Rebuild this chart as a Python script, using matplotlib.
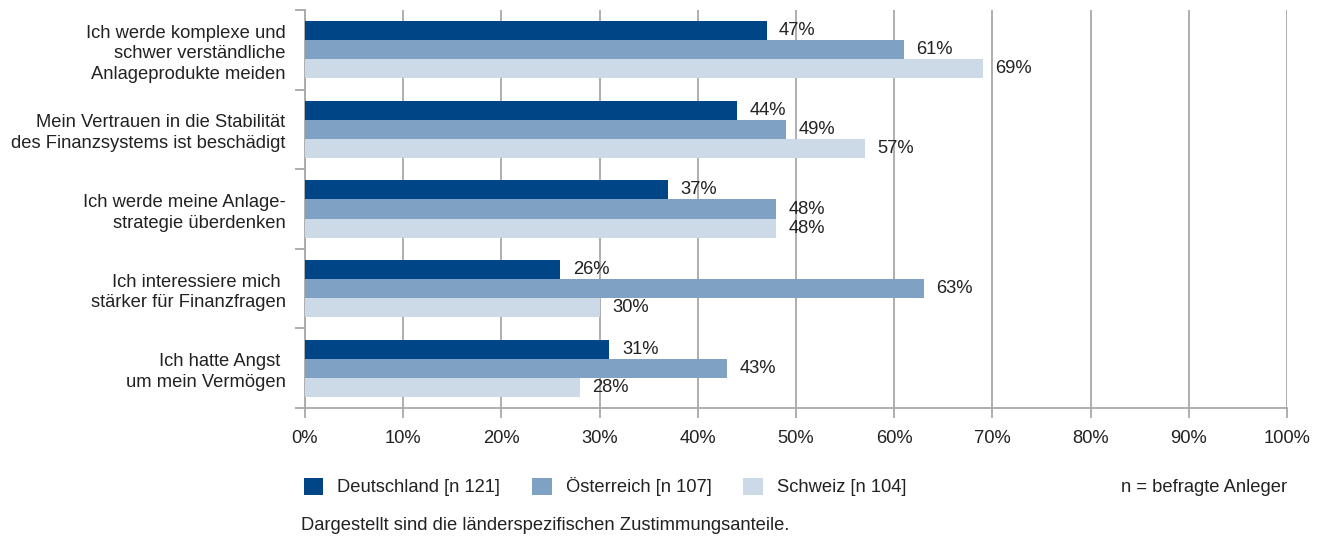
import matplotlib
matplotlib.use("Agg")
import matplotlib.pyplot as plt
import numpy as np
from matplotlib.patches import Patch

plt.rcParams['font.family'] = ['Liberation Sans', 'DejaVu Sans']

categories = [
    "Ich werde komplexe und\nschwer verständliche\nAnlageprodukte meiden",
    "Mein Vertrauen in die Stabilität\ndes Finanzsystems ist beschädigt",
    "Ich werde meine Anlage-\nstrategie überdenken",
    "Ich interessiere mich \nstärker für Finanzfragen",
    "Ich hatte Angst \num mein Vermögen",
]
series_names = ["Deutschland [n 121]", "Österreich [n 107]", "Schweiz [n 104]"]
deutschland = [47, 44, 37, 26, 31]
oesterreich = [61, 49, 48, 63, 43]
schweiz = [69, 57, 48, 30, 28]
x_ticks = [0, 10, 20, 30, 40, 50, 60, 70, 80, 90, 100]
x_ticklabels = [f"{t}%" for t in x_ticks]

colors = ["#004687", "#7fa1c4", "#ccdae7"]
txt = "#222222"
grid_c = "#a8a8a8"
fs = 13.2

fig = plt.figure(figsize=(13.2, 5.38), dpi=100)
ax = fig.add_axes([305/1320, 1-408/538, (1287-305)/1320, (408-10)/538])

n = len(categories)
y = np.arange(n)
h = 0.24
for k, vals in enumerate([deutschland, oesterreich, schweiz]):
    pos = y + (k - 1) * h
    ax.barh(pos, vals, height=h, color=colors[k], zorder=3, linewidth=0)
    for p, v in zip(pos, vals):
        ax.annotate(f"{v}%", (v, p), xytext=(9, 0), textcoords="offset points",
                    va="center", ha="left", fontsize=fs, color=txt, zorder=4)

ax.set_xlim(0, 100)
ax.set_ylim(n - 0.5, -0.5)
ax.set_xticks(x_ticks)
ax.set_xticklabels(x_ticklabels, fontsize=fs, color=txt)
ax.xaxis.grid(True, color=grid_c, linewidth=1.3, zorder=0)
ax.set_axisbelow(True)

ax.set_yticks(np.arange(-0.5, n, 1.0))
ax.set_yticklabels([])
ax.set_yticks(y, minor=True)
ax.set_yticklabels(categories, minor=True, fontsize=fs, color=txt, ha="right",
                   linespacing=1.27)
ax.tick_params(axis="y", which="minor", length=0, pad=14)
ax.tick_params(axis="y", which="major", length=7, width=1.3, color=grid_c, direction="out")
ax.tick_params(axis="x", length=7, width=1.3, color=grid_c, direction="out", pad=9)

for s in ["top", "right"]:
    ax.spines[s].set_visible(False)
for s in ["left", "bottom"]:
    ax.spines[s].set_color(grid_c)
    ax.spines[s].set_linewidth(1.3)

handles = [Patch(facecolor=c, edgecolor="none") for c in colors]
fig.legend(handles, series_names, loc="center left",
           bbox_to_anchor=(287/1320, 1-487/538), ncol=3, frameon=False,
           fontsize=fs, handlelength=1.08, handleheight=1.08, handletextpad=0.75,
           columnspacing=1.75, labelcolor=txt)

fig.text(1287/1320, 1-487/538, "n = befragte Anleger", ha="right", va="center",
         fontsize=fs, color=txt)
fig.text(301/1320, 1-526/538, "Dargestellt sind die länderspezifischen Zustimmungsanteile.",
         ha="left", va="center", fontsize=fs, color=txt)

fig.savefig("out.png", dpi=100)
